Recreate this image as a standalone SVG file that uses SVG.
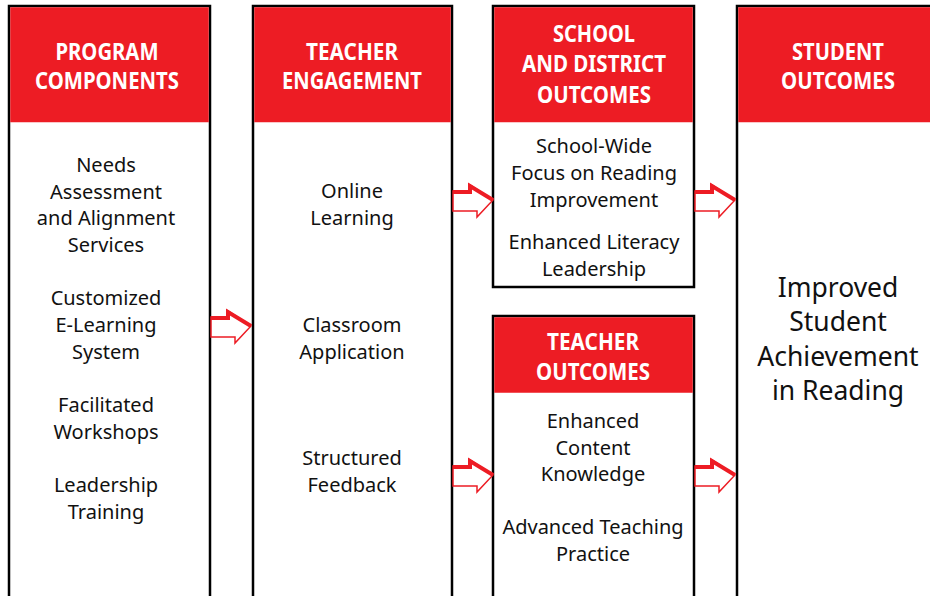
<svg xmlns="http://www.w3.org/2000/svg" width="930" height="596" viewBox="0 0 930 596">
<defs>
<style>
.box{fill:#fff;stroke:#000;stroke-width:2.5}
.hdr{fill:#ed1c24}
.ht{font-family:"Noto Sans","Open Sans",sans-serif;font-weight:bold;font-size:23px;fill:#fff;text-anchor:middle}
.bt{font-family:"Noto Sans","Open Sans",sans-serif;font-size:20px;fill:#111;text-anchor:middle}
.big{font-family:"Noto Sans","Open Sans",sans-serif;font-size:26.5px;fill:#111;text-anchor:middle}
.arr{fill:#fff;stroke:#ed1c24;stroke-width:1.5;stroke-linejoin:miter}
.arrt{fill:none;stroke:#ed1c24;stroke-width:4;stroke-linejoin:miter}
</style>
<g id="arrow">
<polygon class="arr" points="0,-9 17,-9 17,-15 40,0 24,17 24,11 0,11"/>
<polyline class="arrt" points="0,-8 17,-8 17,-14 40,0"/>
</g>
</defs>

<g id="program-components">
<rect class="box" x="9" y="6" width="201" height="592"/>
<rect class="hdr" x="10.25" y="7.25" width="198.5" height="115"/>
<text class="ht" x="107" y="60" textLength="103" lengthAdjust="spacingAndGlyphs">PROGRAM</text>
<text class="ht" x="107" y="89" textLength="144" lengthAdjust="spacingAndGlyphs">COMPONENTS</text>
<text class="bt" x="106" y="172">Needs</text>
<text class="bt" x="106" y="199">Assessment</text>
<text class="bt" x="106" y="225">and Alignment</text>
<text class="bt" x="106" y="252">Services</text>
<text class="bt" x="106" y="305">Customized</text>
<text class="bt" x="106" y="332">E-Learning</text>
<text class="bt" x="106" y="359">System</text>
<text class="bt" x="106" y="412">Facilitated</text>
<text class="bt" x="106" y="439">Workshops</text>
<text class="bt" x="106" y="492">Leadership</text>
<text class="bt" x="106" y="519">Training</text>
</g>

<g id="teacher-engagement">
<rect class="box" x="253" y="6" width="199" height="592"/>
<rect class="hdr" x="254.25" y="7.25" width="196.5" height="115"/>
<text class="ht" x="352" y="60" textLength="92" lengthAdjust="spacingAndGlyphs">TEACHER</text>
<text class="ht" x="352" y="89" textLength="140" lengthAdjust="spacingAndGlyphs">ENGAGEMENT</text>
<text class="bt" x="352" y="198">Online</text>
<text class="bt" x="352" y="225">Learning</text>
<text class="bt" x="352" y="332">Classroom</text>
<text class="bt" x="352" y="359">Application</text>
<text class="bt" x="352" y="465">Structured</text>
<text class="bt" x="352" y="492">Feedback</text>
</g>

<g id="school-district-outcomes">
<rect class="box" x="493" y="6" width="201" height="281"/>
<rect class="hdr" x="494.25" y="7.25" width="198.5" height="115"/>
<text class="ht" x="594" y="42" textLength="82" lengthAdjust="spacingAndGlyphs">SCHOOL</text>
<text class="ht" x="594" y="72" textLength="144" lengthAdjust="spacingAndGlyphs">AND DISTRICT</text>
<text class="ht" x="594" y="103" textLength="114" lengthAdjust="spacingAndGlyphs">OUTCOMES</text>
<text class="bt" x="594" y="153">School-Wide</text>
<text class="bt" x="594" y="180">Focus on Reading</text>
<text class="bt" x="594" y="207">Improvement</text>
<text class="bt" x="594" y="249">Enhanced Literacy</text>
<text class="bt" x="594" y="276">Leadership</text>
</g>

<g id="teacher-outcomes">
<rect class="box" x="493" y="316" width="201" height="282"/>
<rect class="hdr" x="494.25" y="317.25" width="198.5" height="75.5"/>
<text class="ht" x="593" y="350" textLength="92" lengthAdjust="spacingAndGlyphs">TEACHER</text>
<text class="ht" x="593" y="380" textLength="114" lengthAdjust="spacingAndGlyphs">OUTCOMES</text>
<text class="bt" x="593" y="428">Enhanced</text>
<text class="bt" x="593" y="455">Content</text>
<text class="bt" x="593" y="481">Knowledge</text>
<text class="bt" x="593" y="534">Advanced Teaching</text>
<text class="bt" x="593" y="561">Practice</text>
</g>

<g id="student-outcomes">
<rect class="box" x="737" y="6" width="200" height="592"/>
<rect class="hdr" x="738.25" y="7.25" width="198" height="115"/>
<text class="ht" x="838" y="60" textLength="92" lengthAdjust="spacingAndGlyphs">STUDENT</text>
<text class="ht" x="838" y="89" textLength="114" lengthAdjust="spacingAndGlyphs">OUTCOMES</text>
<text class="big" x="838" y="297">Improved</text>
<text class="big" x="838" y="331">Student</text>
<text class="big" x="838" y="366">Achievement</text>
<text class="big" x="838" y="400">in Reading</text>
</g>

<g id="connectors">
<use href="#arrow" x="211" y="326"/>
<use href="#arrow" x="453" y="200"/>
<use href="#arrow" x="453" y="475"/>
<use href="#arrow" x="695" y="200"/>
<use href="#arrow" x="695" y="475"/>
</g>
</svg>
